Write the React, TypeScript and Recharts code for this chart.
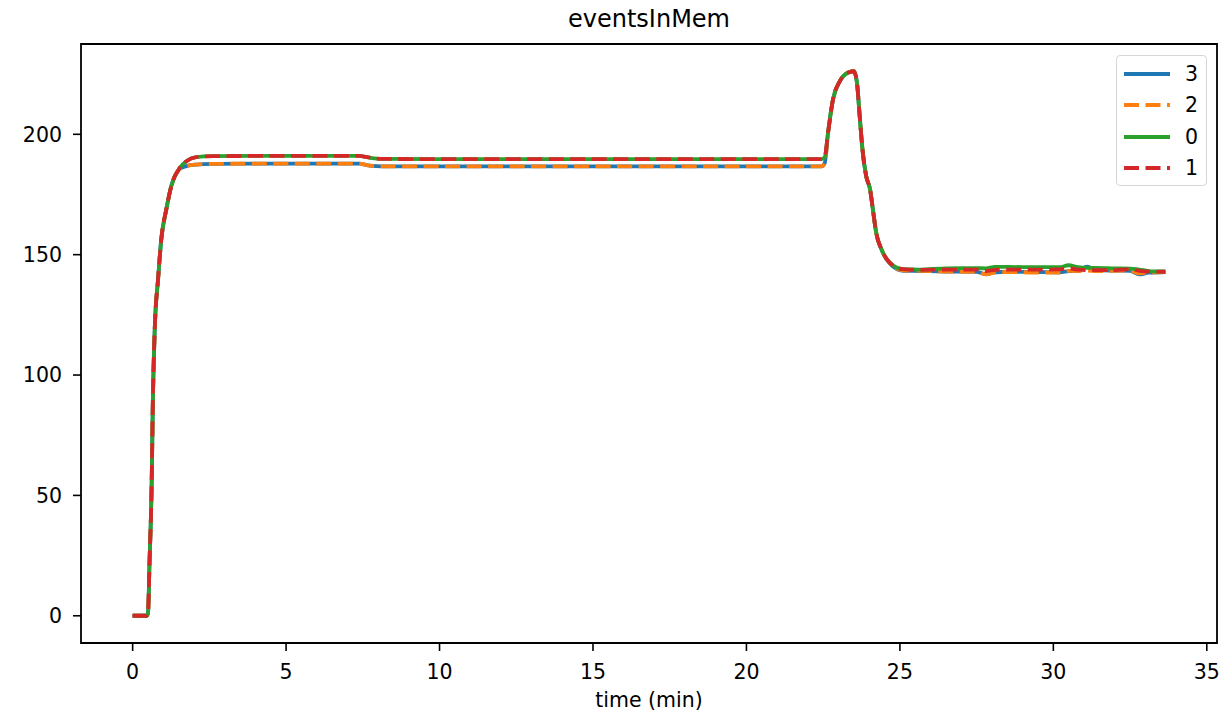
import { LineChart, Line, XAxis, YAxis, ReferenceArea } from "recharts";

// time in minutes
const time = [
  0, 0.45, 0.5, 0.55, 0.62, 0.66, 0.72, 0.83, 0.93, 1.1, 1.26, 1.53, 1.75, 2.07,
  2.6, 4, 6, 7.4, 7.6, 7.8, 8.1, 10, 15, 20, 22.45, 22.55, 22.66, 22.82, 23.04,
  23.3, 23.5, 23.6, 23.69, 23.78, 23.9, 24.03, 24.12, 24.23, 24.4, 24.67, 25.1,
  25.64, 26.5, 27.5, 27.8, 28.1, 28.5, 29.5, 30.2, 30.5, 30.8, 31.1, 31.4, 32,
  32.5, 32.8, 33.1, 33.65,
];

const series0 = [
  0, 0, 1, 22, 55, 90, 119, 140, 156, 169, 178.5, 186, 188.8, 190.5, 190.9, 191,
  191, 191, 190.6, 190.1, 189.8, 189.7, 189.7, 189.7, 189.7, 190.5, 200.7, 214.5,
  222, 225.6, 226.2, 221.5, 207.6, 193.8, 182.7, 177, 168.8, 159, 152.2, 146.7,
  144, 143.8, 144.3, 144.4, 144.3, 144.9, 144.9, 144.8, 144.8, 145.6, 144.8,
  144.5, 144.5, 144.3, 144.2, 143.8, 143.2, 143,
];

const series1 = [
  0, 0, 1, 22, 55, 90, 119, 140, 156, 169, 178.5, 186, 188.8, 190.5, 190.9, 191,
  191, 191, 190.6, 190.1, 189.8, 189.7, 189.7, 189.7, 189.7, 190.5, 200.7, 214.5,
  222, 225.6, 226.2, 221.5, 207.6, 193.8, 182.7, 177, 168.8, 159, 152.2, 146.7,
  144, 143.7, 143.8, 143.8, 143.2, 143.7, 143.8, 143.8, 143.9, 144.3, 143.8,
  143.6, 143.6, 143.6, 144, 143.3, 143, 142.9,
];

const series2 = [
  0, 0, 1, 22, 55, 90, 119, 140, 156, 169, 178.5, 185.5, 186.8, 187.4, 187.7,
  187.8, 187.8, 187.8, 187.3, 186.9, 186.7, 186.7, 186.7, 186.7, 186.7, 188,
  200.7, 214.5, 222, 225.6, 226.2, 221.5, 207.6, 193.8, 182.7, 177, 168.8, 159,
  152.2, 146.5, 143.5, 143.3, 143, 142.8, 141.9, 142.6, 142.8, 142.6, 142.6,
  143.3, 143.2, 143.4, 143.2, 143.3, 143.4, 142.2, 142.6, 142.8,
];

const series3 = [
  0, 0, 1, 22, 55, 90, 119, 140, 156, 169, 178.5, 185.5, 186.8, 187.4, 187.7,
  187.8, 187.8, 187.8, 187.3, 186.9, 186.7, 186.7, 186.7, 186.7, 186.7, 188,
  200.7, 214.5, 222, 225.6, 226.2, 221.5, 207.6, 193.8, 182.7, 177, 168.8, 159,
  152.2, 146.3, 143.3, 143.2, 143, 142.9, 141.8, 142.7, 142.9, 142.8, 142.7,
  143.2, 143.4, 145, 143.6, 143.4, 143.3, 141.8, 142.5, 142.8,
];

const xTicks = [0, 5, 10, 15, 20, 25, 30, 35];
const yTicks = [0, 50, 100, 150, 200];

const X_DOMAIN: [number, number] = [-1.6825, 35.3325];
const Y_DOMAIN: [number, number] = [-11.31, 237.51];

const data = time.map((t, i) => ({
  t,
  s0: series0[i],
  s1: series1[i],
  s2: series2[i],
  s3: series3[i],
}));

const DASH = "15 6.5";
const FONT = "DejaVu Sans";

const legendItems = [
  { label: "3", color: "#1f77b4", dash: undefined },
  { label: "2", color: "#ff7f0e", dash: DASH },
  { label: "0", color: "#2ca02c", dash: undefined },
  { label: "1", color: "#d62728", dash: DASH },
];

function LegendBox() {
  return (
    <div
      style={{
        position: "absolute",
        top: 55,
        left: 1116,
        width: 89,
        height: 129,
        border: "1.5px solid #d6d6d6",
        borderRadius: 4,
        background: "rgba(255,255,255,0.8)",
        fontFamily: FONT,
        fontSize: 20.5,
        color: "#000",
      }}
    >
      {legendItems.map((item, i) => (
        <div
          key={item.label}
          style={{ display: "flex", alignItems: "center", height: 31.5, marginTop: i === 0 ? 2 : 0 }}
        >
          <svg width={54} height={10} style={{ marginLeft: 6 }}>
            <line
              x1={1}
              x2={47}
              y1={5}
              y2={5}
              stroke={item.color}
              strokeWidth={3.8}
              strokeDasharray={item.dash}
            />
          </svg>
          <span style={{ marginLeft: 8 }}>{item.label}</span>
        </div>
      ))}
    </div>
  );
}

export default function App() {
  return (
    <div style={{ position: "relative", width: 1223, height: 718, background: "#fff" }}>
      <style>{"body{margin:0}"}</style>
      <div
        style={{
          position: "absolute",
          top: 5,
          left: 81,
          width: 1136,
          textAlign: "center",
          fontFamily: FONT,
          fontSize: 24,
          color: "#000",
        }}
      >
        eventsInMem
      </div>
      <LineChart
        width={1223}
        height={718}
        data={data}
        margin={{ top: 44, right: 6, bottom: 0, left: 11 }}
      >
        <XAxis
          dataKey="t"
          type="number"
          domain={X_DOMAIN}
          ticks={xTicks}
          allowDataOverflow
          height={75}
          tickSize={8}
          tickMargin={13}
          axisLine={false}
          tickLine={{ stroke: "#000", strokeWidth: 1.6 }}
          tick={{ fill: "#000", fontSize: 20.5, fontFamily: FONT }}
          label={{
            value: "time (min)",
            position: "insideBottom",
            offset: 11,
            fill: "#000",
            fontSize: 20.5,
            fontFamily: FONT,
          }}
        />
        <YAxis
          type="number"
          domain={Y_DOMAIN}
          ticks={yTicks}
          allowDataOverflow
          width={70}
          tickSize={8}
          tickMargin={11}
          axisLine={false}
          tickLine={{ stroke: "#000", strokeWidth: 1.6 }}
          tick={{ fill: "#000", fontSize: 20.5, fontFamily: FONT }}
        />
        <ReferenceArea
          x1={X_DOMAIN[0]}
          x2={X_DOMAIN[1]}
          y1={Y_DOMAIN[0]}
          y2={Y_DOMAIN[1]}
          fill="none"
          stroke="#000"
          strokeWidth={1.8}
          ifOverflow="visible"
        />
        <Line
          dataKey="s3"
          type="monotone"
          stroke="#1f77b4"
          strokeWidth={3.8}
          dot={false}
          activeDot={false}
          isAnimationActive={false}
        />
        <Line
          dataKey="s2"
          type="monotone"
          stroke="#ff7f0e"
          strokeWidth={3.8}
          strokeDasharray={DASH}
          dot={false}
          activeDot={false}
          isAnimationActive={false}
        />
        <Line
          dataKey="s0"
          type="monotone"
          stroke="#2ca02c"
          strokeWidth={3.8}
          dot={false}
          activeDot={false}
          isAnimationActive={false}
        />
        <Line
          dataKey="s1"
          type="monotone"
          stroke="#d62728"
          strokeWidth={3.8}
          strokeDasharray={DASH}
          dot={false}
          activeDot={false}
          isAnimationActive={false}
        />
      </LineChart>
      <LegendBox />
    </div>
  );
}
